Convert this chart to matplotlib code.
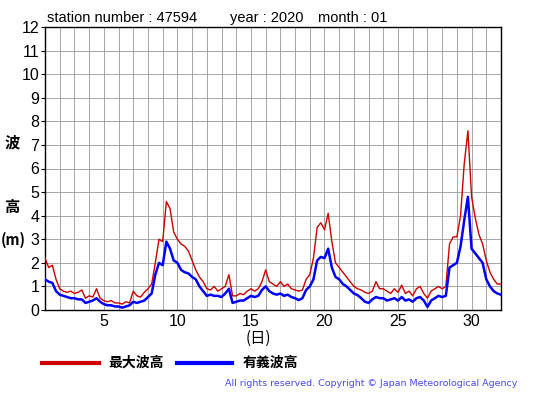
import matplotlib
matplotlib.use("Agg")
import matplotlib.pyplot as plt
import numpy as np

# 6-hourly values, day 1.00 .. 32.00
max_wave = [
    2.2, 1.8, 1.9, 1.3,
    0.9, 0.8, 0.75, 0.8,
    0.7, 0.75, 0.85, 0.5,
    0.6, 0.55, 0.9, 0.5,
    0.4, 0.35, 0.4, 0.3,
    0.3, 0.25, 0.35, 0.3,
    0.8, 0.6, 0.55, 0.75,
    0.9, 1.1, 2.0, 3.0,
    2.9, 4.6, 4.3, 3.3,
    3.0, 2.8, 2.7, 2.5,
    2.1, 1.7, 1.4, 1.2,
    0.9, 0.85, 1.0, 0.8,
    0.9, 1.0, 1.5, 0.6,
    0.6, 0.7, 0.65, 0.8,
    0.9, 0.8, 0.9, 1.2,
    1.7, 1.2, 1.1, 1.0,
    1.2, 1.0, 1.1, 0.9,
    0.85, 0.8, 0.85, 1.3,
    1.5, 2.2, 3.5, 3.7,
    3.4, 4.1, 2.9, 2.0,
    1.8, 1.6, 1.4, 1.2,
    1.0, 0.9, 0.85, 0.75,
    0.7, 0.8, 1.2, 0.9,
    0.9, 0.8, 0.7, 0.9,
    0.75, 1.05, 0.7, 0.8,
    0.6, 0.9, 1.0, 0.7,
    0.5, 0.8, 0.9, 1.0,
    0.9, 1.0, 2.8, 3.1,
    3.1, 4.0, 6.2, 7.6,
    4.8, 3.9, 3.2, 2.8,
    2.1, 1.6, 1.3, 1.1,
    1.1,
]
sig_wave = [
    1.3, 1.2, 1.15, 0.8,
    0.65, 0.6, 0.55, 0.5,
    0.5, 0.45, 0.45, 0.3,
    0.35, 0.4, 0.5, 0.35,
    0.25, 0.2, 0.2, 0.15,
    0.15, 0.1, 0.15, 0.2,
    0.35, 0.3, 0.35, 0.4,
    0.55, 0.7, 1.5, 2.0,
    1.9, 2.9, 2.6, 2.1,
    2.0, 1.7, 1.6, 1.55,
    1.4, 1.3, 1.0, 0.8,
    0.6, 0.65, 0.6, 0.6,
    0.55, 0.7, 0.9, 0.3,
    0.35, 0.4, 0.4, 0.5,
    0.6, 0.55, 0.6, 0.85,
    1.0, 0.8, 0.7, 0.65,
    0.7, 0.6, 0.65, 0.55,
    0.5, 0.42, 0.5, 0.85,
    1.0, 1.3, 2.1, 2.25,
    2.2, 2.6, 1.8, 1.4,
    1.3, 1.1, 1.0, 0.85,
    0.7, 0.63, 0.5, 0.35,
    0.3, 0.45, 0.55, 0.5,
    0.5, 0.4, 0.45, 0.5,
    0.4, 0.55, 0.4, 0.45,
    0.35, 0.5, 0.55, 0.4,
    0.13, 0.4, 0.5, 0.6,
    0.55, 0.6, 1.8, 1.9,
    2.0, 2.7, 3.8, 4.8,
    2.6, 2.4, 2.2, 2.0,
    1.3, 1.0, 0.8, 0.7,
    0.65,
]
days = np.arange(len(max_wave)) * 0.25 + 1.0
x_ticks = [5, 10, 15, 20, 25, 30]
y_ticks = list(range(0, 13))

plt.rcParams['font.family'] = ['Liberation Sans', 'Noto Sans CJK JP']

fig = plt.figure(figsize=(5.55, 3.95), dpi=100)
ax = fig.add_axes([45/555, 1-310/395, 456/555, 283/395])

ax.plot(days, max_wave, color='#cc0000', lw=1.0, zorder=3)
ax.plot(days, sig_wave, color='#0000ff', lw=1.8, zorder=4)

ax.set_xlim(1, 32)
ax.set_ylim(0, 12)
ax.set_xticks(np.arange(1, 33), minor=True)
ax.set_xticks(x_ticks)
ax.set_yticks(y_ticks)
ax.grid(True, which='both', axis='x', color='#999999', lw=0.6)
ax.grid(True, which='major', axis='y', color='#999999', lw=0.6)
ax.tick_params(axis='x', which='both', length=0, labelsize=11.5, pad=3)
ax.tick_params(axis='y', length=3, labelsize=11.5, pad=1)
for s in ax.spines.values():
    s.set_color('black'); s.set_linewidth(1.0)

cjk = ['Noto Sans CJK JP', 'Liberation Sans']
fig.text(47/555, 1-22/395, 'station number : 47594', fontsize=10.5)
fig.text(230/555, 1-22/395, 'year : 2020', fontsize=10.5)
fig.text(318/555, 1-22/395, 'month : 01', fontsize=10.5)

fig.text(12/555, 1-142/395, '波', fontsize=11, family=cjk, fontweight='bold', ha='center', va='center')
fig.text(12/555, 1-207/395, '高', fontsize=11, family=cjk, fontweight='bold', ha='center', va='center')
fig.text(13/555, 1-240/395, '(m)', fontsize=10.5, family=cjk, fontweight='bold', ha='center', va='center')
fig.text(258/555, 1-338/395, '(日)', fontsize=11, family=cjk, ha='center', va='center')

fig.add_artist(plt.Line2D([42/555, 99/555], [1-363/395]*2, color='#cc0000', lw=3))
fig.text(108/555, 1-363/395, '最大波高', fontsize=10, family=cjk, fontweight='bold', va='center')
fig.add_artist(plt.Line2D([177/555, 232/555], [1-363/395]*2, color='#0000ff', lw=3))
fig.text(243/555, 1-363/395, '有義波高', fontsize=10, family=cjk, fontweight='bold', va='center')
fig.text(517/555, 1-384/395, 'All rights reserved. Copyright \u00a9 Japan Meteorological Agency',
         fontsize=6.8, color='#4a4aee', ha='right', va='center', family='DejaVu Sans')

fig.savefig('out.png', dpi=100)
